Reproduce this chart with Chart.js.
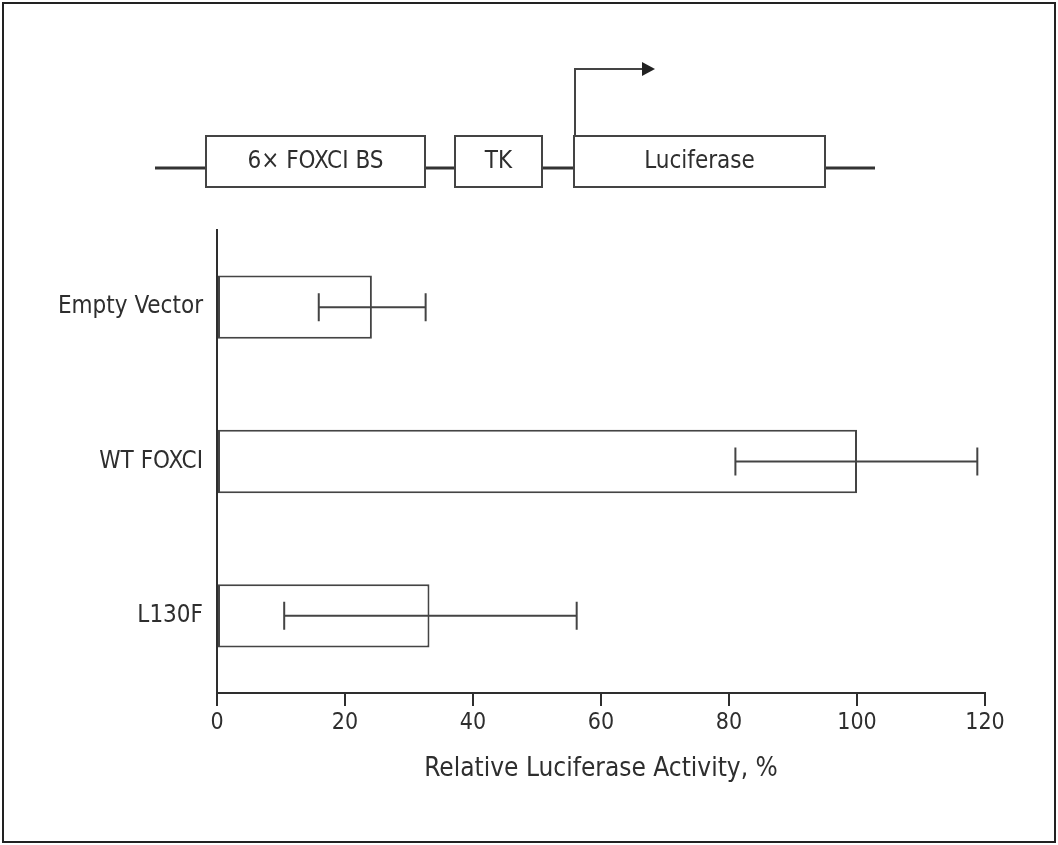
<!DOCTYPE html>
<html>
<head>
<meta charset="utf-8">
<script src="https://cdn.jsdelivr.net/npm/chart.js@4"></script>
<style>
  body { margin: 0; background: #fff; }
  #wrap { width: 1058px; height: 845px; }
</style>
</head>
<body>
<div id="wrap"><canvas id="myChart" width="1058" height="845"></canvas></div>
<script>
// data
const categories = ['Empty Vector', 'WT FOXCI', 'L130F'];
const activity = [24.2, 100, 33.2];
const errLow = [15.9, 81, 10.5];
const errHigh = [32.6, 118.8, 56.2];
const xTicks = [0, 20, 40, 60, 80, 100, 120];

const FONT = '"DejaVu Sans Condensed", "Liberation Sans Narrow", sans-serif';
const INK = '#2e2e2e';

// error bars, drawn through the chart scales
const errorBars = {
  id: 'errorBars',
  afterDatasetsDraw(chart) {
    const ctx = chart.ctx;
    const x = chart.scales.x, y = chart.scales.y;
    ctx.save();
    ctx.strokeStyle = '#444';
    ctx.lineWidth = 2;
    categories.forEach((c, i) => {
      const yc = y.getPixelForValue(i);
      const x1 = x.getPixelForValue(errLow[i]);
      const x2 = x.getPixelForValue(errHigh[i]);
      ctx.beginPath();
      ctx.moveTo(x1, yc); ctx.lineTo(x2, yc);
      ctx.moveTo(x1, yc - 14); ctx.lineTo(x1, yc + 14);
      ctx.moveTo(x2, yc - 14); ctx.lineTo(x2, yc + 14);
      ctx.stroke();
    });
    ctx.restore();
  }
};

// construct diagram on top + frame
const construct = {
  id: 'construct',
  afterDraw(chart) {
    const ctx = chart.ctx;
    ctx.save();
    // frame
    ctx.strokeStyle = '#222';
    ctx.lineWidth = 2;
    ctx.strokeRect(3, 3, 1052, 839);

    // backbone line
    ctx.strokeStyle = '#333';
    ctx.lineWidth = 3;
    ctx.beginPath();
    ctx.moveTo(155, 168); ctx.lineTo(875, 168);
    ctx.stroke();

    const boxes = [
      { x: 206, w: 219, label: '6\u00d7 FOXCI BS' },
      { x: 455, w: 87, label: 'TK' },
      { x: 574, w: 251, label: 'Luciferase' }
    ];
    ctx.lineWidth = 2;
    ctx.strokeStyle = '#444';
    ctx.font = '24px ' + FONT;
    ctx.textAlign = 'center';
    ctx.textBaseline = 'middle';
    boxes.forEach(b => {
      ctx.fillStyle = '#fff';
      ctx.fillRect(b.x, 136, b.w, 51);
      ctx.strokeRect(b.x, 136, b.w, 51);
      ctx.fillStyle = INK;
      ctx.fillText(b.label, b.x + b.w / 2, 162);
    });

    // promoter arrow
    ctx.beginPath();
    ctx.moveTo(575, 136); ctx.lineTo(575, 69); ctx.lineTo(644, 69);
    ctx.stroke();
    ctx.fillStyle = '#222';
    ctx.beginPath();
    ctx.moveTo(642, 62); ctx.lineTo(655, 69); ctx.lineTo(642, 76);
    ctx.closePath();
    ctx.fill();
    ctx.restore();
  }
};

const ctx = document.getElementById('myChart').getContext('2d');
new Chart(ctx, {
  type: 'bar',
  data: {
    labels: categories,
    datasets: [{
      data: activity,
      backgroundColor: '#fff',
      borderColor: '#444',
      borderWidth: 2,
      borderSkipped: false,
      barPercentage: 0.41,
      categoryPercentage: 1
    }]
  },
  options: {
    indexAxis: 'y',
    responsive: false,
    animation: false,
    layout: { padding: { top: 230, right: 73, left: 0, bottom: 0 } },
    plugins: { legend: { display: false }, tooltip: { enabled: false } },
    scales: {
      x: {
        min: 0, max: 120,
        afterFit(s) { s.height = 152; },
        afterBuildTicks(s) { s.ticks = xTicks.map(v => ({ value: v })); },
        grid: { drawOnChartArea: false, drawTicks: true, tickLength: 13, color: INK, lineWidth: 2 },
        border: { display: true, color: INK, width: 2 },
        ticks: { color: INK, padding: 3, font: { family: FONT, size: 23 }, maxRotation: 0 },
        title: { display: true, text: 'Relative Luciferase Activity, %', color: INK,
                 font: { family: FONT, size: 26 }, padding: { top: 0, bottom: 60 } }
      },
      y: {
        afterFit(s) { s.width = 217; },
        grid: { display: false, drawTicks: false },
        border: { display: true, color: INK, width: 2 },
        ticks: { color: INK, padding: 14, font: { family: FONT, size: 24 } }
      }
    }
  },
  plugins: [errorBars, construct]
});
</script>
</body>
</html>
